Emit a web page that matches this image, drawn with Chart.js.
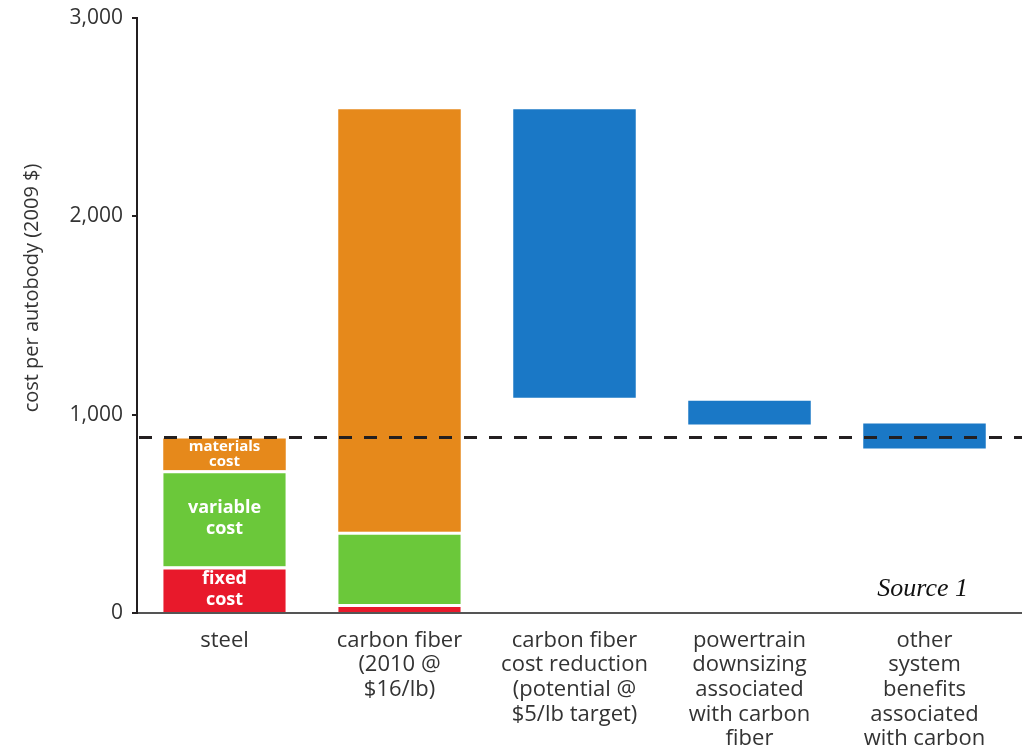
<!DOCTYPE html>
<html>
<head>
<meta charset="utf-8">
<script src="https://cdn.jsdelivr.net/npm/chart.js@4.4.0/dist/chart.umd.min.js"></script>
<style>
  html, body { margin: 0; padding: 0; background: #fff; overflow: hidden; }
  #wrap { width: 1022px; height: 775px; }
</style>
</head>
<body>
<div id="wrap"><canvas id="cost" width="1022" height="775"></canvas></div>
<script>
var categories = [
  ["steel"],
  ["carbon fiber", "(2010 @", "$16/lb)"],
  ["carbon fiber", "cost reduction", "(potential @", "$5/lb target)"],
  ["powertrain", "downsizing", "associated", "with carbon", "fiber"],
  ["other", "system", "benefits", "associated", "with carbon", "fiber"]
];

// stacked parts of the first two bars (steel, carbon fiber)
var fixedCost = [235, 45];
var variableCost = [485, 365];
var materialsCost = [160, 2130];

// floating reductions (carbon fiber cost reduction, powertrain, other)
var reductionLow = [1085, 950, 830];
var reductionHigh = [2540, 1070, 955];

var steelLine = 885;
var yTicks = [0, 1000, 2000, 3000];
var yTitle = "cost per autobody (2009 $)";

var colors = {
  fixed: "#e8192b",
  variable: "#6bc83a",
  materials: "#e6891b",
  reduction: "#1a78c6"
};

function stackPart(parts, below) {
  var out = [null, null, null, null, null];
  for (var i = 0; i < parts.length; i++) {
    var base = 0;
    for (var j = 0; j < below.length; j++) base += below[j][i];
    out[i] = [base, base + parts[i]];
  }
  return out;
}

var reductionData = [null, null];
for (var i = 0; i < reductionLow.length; i++) {
  reductionData.push([reductionLow[i], reductionHigh[i]]);
}

var segLabels = [
  {ds: 0, lines: ["fixed", "cost"], size: 18, gap: 21},
  {ds: 1, lines: ["variable", "cost"], size: 18, gap: 21},
  {ds: 2, lines: ["materials", "cost"], size: 15, gap: 15}
];

var extras = {
  id: "extras",
  afterDatasetsDraw: function(chart) {
    var ctx = chart.ctx;
    var area = chart.chartArea;
    var y = chart.scales.y;

    // labels inside the steel bar
    ctx.save();
    ctx.fillStyle = "#fff";
    ctx.textAlign = "center";
    ctx.textBaseline = "middle";
    segLabels.forEach(function(s) {
      var bar = chart.getDatasetMeta(s.ds).data[0];
      var mid = (bar.y + bar.base) / 2;
      ctx.font = "bold " + s.size + "px 'Open Sans'";
      ctx.fillText(s.lines[0], bar.x, mid - s.gap / 2);
      ctx.fillText(s.lines[1], bar.x, mid + s.gap / 2);
    });
    ctx.restore();

    // dashed steel reference line
    var ly = y.getPixelForValue(steelLine);
    ctx.save();
    ctx.strokeStyle = "#231f20";
    ctx.lineWidth = 3;
    ctx.setLineDash([13, 12]);
    ctx.beginPath();
    ctx.moveTo(area.left + 2, ly);
    ctx.lineTo(chart.width, ly);
    ctx.stroke();
    ctx.restore();

    // x axis runs on to the right edge
    ctx.save();
    ctx.strokeStyle = "#555";
    ctx.lineWidth = 2;
    ctx.beginPath();
    ctx.moveTo(area.right - 1, area.bottom);
    ctx.lineTo(chart.width, area.bottom);
    ctx.stroke();
    ctx.restore();

    // y axis title
    ctx.save();
    ctx.translate(32, 288);
    ctx.rotate(-Math.PI / 2);
    ctx.fillStyle = "#333";
    ctx.font = "20px 'Open Sans'";
    ctx.textAlign = "center";
    ctx.textBaseline = "middle";
    ctx.fillText(yTitle, 0, 0);
    ctx.restore();

    ctx.save();
    ctx.fillStyle = "#111";
    ctx.font = "italic 26px 'Liberation Serif'";
    ctx.textAlign = "right";
    ctx.textBaseline = "alphabetic";
    ctx.fillText("Source 1", 968, 596);
    ctx.restore();
  }
};

var barOpts = {
  grouped: false,
  barPercentage: 0.7,
  categoryPercentage: 1.0,
  borderSkipped: false
};

new Chart("cost", {
  type: "bar",
  data: {
    labels: categories,
    datasets: [
      Object.assign({label: "fixed cost", data: stackPart(fixedCost, []),
        backgroundColor: colors.fixed, borderColor: "#fff", borderWidth: {top: 3}}, barOpts),
      Object.assign({label: "variable cost", data: stackPart(variableCost, [fixedCost]),
        backgroundColor: colors.variable, borderColor: "#fff", borderWidth: {top: 3}}, barOpts),
      Object.assign({label: "materials cost", data: stackPart(materialsCost, [fixedCost, variableCost]),
        backgroundColor: colors.materials, borderWidth: 0}, barOpts),
      Object.assign({label: "reduction", data: reductionData,
        backgroundColor: colors.reduction, borderWidth: 0}, barOpts)
    ]
  },
  options: {
    responsive: false,
    animation: false,
    layout: {padding: {top: 18, right: 10, left: 0, bottom: 0}},
    plugins: {
      legend: {display: false},
      tooltip: {enabled: false}
    },
    scales: {
      x: {
        grid: {display: false},
        border: {display: true, color: "#555", width: 2},
        ticks: {
          color: "#333",
          padding: 7,
          maxRotation: 0,
          autoSkip: false,
          font: {family: "'Open Sans'", size: 22, lineHeight: 1.12}
        },
        afterFit: function(s) { s.height = 775 - 613; }
      },
      y: {
        min: 0,
        max: 3000,
        afterBuildTicks: function(s) {
          s.ticks = yTicks.map(function(v) { return {value: v}; });
        },
        grid: {drawOnChartArea: false, drawTicks: true, tickLength: 5, color: "#231f20", lineWidth: 2},
        border: {display: true, color: "#231f20", width: 2},
        ticks: {
          color: "#333",
          padding: 9,
          font: {family: "'Open Sans'", size: 21},
          callback: function(v) { return v.toLocaleString("en-US"); }
        },
        afterFit: function(s) {
          s.width = 137;
          s.paddingTop = 0;
          s.paddingBottom = 0;
        }
      }
    }
  },
  plugins: [extras]
});
</script>
</body>
</html>
